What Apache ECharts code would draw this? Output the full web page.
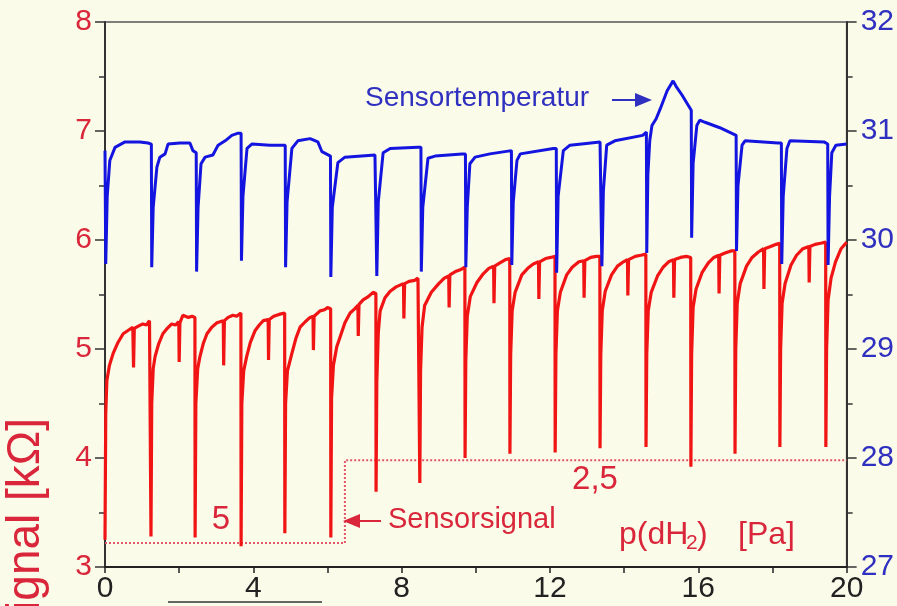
<!DOCTYPE html>
<html>
<head>
<meta charset="utf-8">
<script src="https://cdn.jsdelivr.net/npm/echarts@6/dist/echarts.min.js"></script>
<style>
html,body{margin:0;padding:0;background:#fbfbe9;}
#chart{width:897px;height:606px;}
</style>
</head>
<body>
<div id="chart"></div>
<script>
// Sensorsignal [kΩ] (left axis)
var signalData = [
[0,3.25],[0.02,4.4],[0.05,4.71],[0.12,4.85],[0.22,4.96],[0.35,5.06],[0.49,5.14],[0.62,5.17],[0.75,5.2],[0.77,4.83],[0.79,5.19],[0.9,5.21],[1.02,5.23],[1.12,5.22],[1.2,5.26],[1.235,5.25],
[1.24,3.28],[1.26,4.5],[1.3,4.82],[1.35,4.93],[1.45,5.05],[1.56,5.14],[1.68,5.19],[1.8,5.23],[1.9,5.22],[1.99,5.25],[2.0,4.88],[2.02,5.24],[2.1,5.31],[2.25,5.29],[2.35,5.3],[2.425,5.29],
[2.43,3.27],[2.45,4.5],[2.5,4.82],[2.56,4.93],[2.65,5.05],[2.75,5.14],[2.88,5.2],[3.02,5.24],[3.19,5.26],[3.2,4.85],[3.22,5.26],[3.32,5.29],[3.45,5.31],[3.55,5.3],[3.665,5.33],
[3.67,3.19],[3.69,4.5],[3.74,4.8],[3.82,4.93],[3.92,5.06],[4.05,5.17],[4.16,5.22],[4.27,5.26],[4.4,5.27],[4.41,4.9],[4.43,5.27],[4.55,5.3],[4.63,5.31],[4.72,5.32],[4.845,5.33],
[4.85,3.31],[4.87,4.5],[4.92,4.8],[5.04,4.96],[5.15,5.1],[5.26,5.2],[5.4,5.25],[5.53,5.29],[5.61,5.3],[5.62,4.99],[5.64,5.3],[5.8,5.35],[5.92,5.36],[6.0,5.38],[6.085,5.37],
[6.09,3.27],[6.11,4.55],[6.16,4.85],[6.25,5.02],[6.34,5.11],[6.47,5.24],[6.61,5.33],[6.74,5.37],[6.82,5.4],[6.83,5.12],[6.85,5.41],[6.96,5.45],[7.1,5.48],[7.23,5.52],[7.305,5.51],
[7.31,3.69],[7.33,4.7],[7.37,5.15],[7.42,5.35],[7.55,5.47],[7.69,5.53],[7.85,5.57],[8.05,5.6],[8.06,5.28],[8.08,5.6],[8.2,5.62],[8.35,5.63],[8.44,5.65],[8.485,5.65],
[8.49,3.77],[8.51,4.8],[8.55,5.2],[8.62,5.4],[8.8,5.52],[9.0,5.6],[9.15,5.65],[9.27,5.67],[9.28,5.38],[9.3,5.68],[9.45,5.71],[9.6,5.73],[9.705,5.75],
[9.71,4.0],[9.73,4.9],[9.77,5.3],[9.85,5.48],[10.03,5.61],[10.2,5.69],[10.35,5.74],[10.48,5.76],[10.49,5.42],[10.51,5.76],[10.65,5.79],[10.8,5.82],[10.915,5.83],
[10.92,4.04],[10.94,4.95],[10.98,5.35],[11.06,5.52],[11.24,5.68],[11.4,5.74],[11.55,5.78],[11.69,5.8],[11.7,5.46],[11.72,5.8],[11.88,5.83],[12.02,5.84],[12.135,5.85],
[12.14,4.05],[12.16,4.95],[12.2,5.35],[12.28,5.52],[12.45,5.68],[12.6,5.75],[12.78,5.8],[12.91,5.81],[12.92,5.47],[12.94,5.81],[13.1,5.84],[13.25,5.85],[13.345,5.85],
[13.35,4.09],[13.37,4.95],[13.41,5.35],[13.49,5.53],[13.66,5.68],[13.82,5.76],[13.98,5.8],[14.09,5.82],[14.1,5.49],[14.12,5.82],[14.3,5.85],[14.45,5.86],[14.585,5.87],
[14.59,4.10],[14.61,4.95],[14.65,5.35],[14.73,5.52],[14.9,5.67],[15.05,5.75],[15.2,5.8],[15.33,5.82],[15.34,5.47],[15.36,5.82],[15.52,5.84],[15.68,5.85],[15.795,5.84],
[15.80,3.92],[15.82,4.95],[15.86,5.38],[15.94,5.55],[16.1,5.7],[16.27,5.79],[16.42,5.84],[16.55,5.86],[16.56,5.51],[16.58,5.86],[16.72,5.88],[16.88,5.9],[16.985,5.9],
[16.99,4.04],[17.01,5.0],[17.05,5.42],[17.13,5.6],[17.3,5.76],[17.45,5.84],[17.62,5.89],[17.76,5.92],[17.77,5.55],[17.79,5.92],[17.95,5.94],[18.1,5.96],[18.195,5.97],
[18.2,4.10],[18.22,5.0],[18.26,5.42],[18.34,5.6],[18.5,5.77],[18.65,5.86],[18.82,5.92],[18.98,5.94],[18.99,5.61],[19.01,5.94],[19.15,5.96],[19.3,5.97],[19.435,5.98],
[19.44,4.10],[19.46,5.0],[19.5,5.45],[19.58,5.65],[19.7,5.8],[19.85,5.92],[20,5.98]
];

// Sensortemperatur (right axis)
var temperatureData = [
[0,30.82],[0.02,29.78],[0.06,30.4],[0.13,30.73],[0.27,30.85],[0.54,30.9],[0.94,30.9],[1.16,30.89],[1.25,30.88],
[1.26,29.75],[1.3,30.3],[1.4,30.67],[1.48,30.76],[1.62,30.79],[1.7,30.88],[2.02,30.89],[2.29,30.89],[2.37,30.82],[2.46,30.8],
[2.47,29.71],[2.51,30.3],[2.59,30.7],[2.7,30.76],[2.91,30.78],[3.05,30.87],[3.24,30.91],[3.42,30.96],[3.59,30.98],[3.67,30.98],
[3.68,29.81],[3.72,30.4],[3.83,30.84],[3.96,30.88],[4.45,30.87],[4.86,30.87],
[4.87,29.75],[4.91,30.35],[5.04,30.84],[5.2,30.91],[5.53,30.93],[5.74,30.9],[5.85,30.81],[6.08,30.77],
[6.09,29.66],[6.13,30.3],[6.28,30.71],[6.47,30.76],[7.28,30.78],[7.32,30.78],
[7.33,29.67],[7.37,30.35],[7.5,30.8],[7.69,30.84],[8.44,30.85],[8.52,30.85],
[8.53,29.71],[8.57,30.3],[8.71,30.75],[8.9,30.77],[9.63,30.79],[9.72,30.79],
[9.73,29.75],[9.77,30.3],[9.84,30.7],[9.98,30.76],[10.38,30.79],[10.96,30.82],
[10.97,29.77],[11.01,30.35],[11.11,30.73],[11.2,30.79],[12.09,30.84],[12.17,30.84],
[12.18,29.7],[12.22,30.4],[12.36,30.82],[12.54,30.87],[13.35,30.9],[13.39,30.9],
[13.40,29.76],[13.44,30.45],[13.53,30.87],[13.75,30.91],[14.5,30.96],[14.6,30.99],
[14.61,29.88],[14.64,30.6],[14.69,30.91],[14.75,31.05],[14.86,31.11],[14.97,31.2],[15.16,31.37],[15.32,31.46],[15.4,31.41],[15.56,31.33],[15.72,31.24],[15.81,31.19],
[15.82,30.02],[15.86,30.7],[15.96,31.05],[16.04,31.1],[16.18,31.08],[16.58,31.03],[17.02,30.96],
[17.03,29.9],[17.07,30.5],[17.18,30.87],[17.26,30.91],[18.15,30.89],[18.24,30.89],
[18.25,29.78],[18.29,30.4],[18.39,30.84],[18.47,30.91],[19.39,30.9],[19.49,30.88],
[19.5,29.77],[19.54,30.4],[19.6,30.8],[19.71,30.87],[20,30.88]
];

// p(dH2) step profile drawn on left-axis scale (5 Pa then 2,5 Pa)
var pressureData = [[0,3.22],[6.47,3.22],[6.47,3.98],[20,3.98]];

var xTicks = [0,4,8,12,16,20];
var leftTicks = [3,4,5,6,7,8];
var rightTicks = [27,28,29,30,31,32];

var FONT = 'Liberation Sans, Arial, sans-serif';
var RED_TXT = '#d9263a';
var BLUE_TXT = '#2f2fc0';

var chart = echarts.init(document.getElementById('chart'), null, {renderer:'canvas'});
chart.setOption({
  animation: false,
  backgroundColor: '#fbfbe9',
  grid: {left:105, right:50, top:22, bottom:39, show:true, borderColor:'#555', borderWidth:1.5, backgroundColor:'transparent'},
  xAxis: {
    type:'value', min:xTicks[0], max:xTicks[xTicks.length-1], interval:4,
    axisLine:{show:true, onZero:false, lineStyle:{color:'#222', width:2}},
    axisTick:{show:true, inside:false, length:6, lineStyle:{color:'#222', width:1.5}},
    minorTick:{show:true, splitNumber:2, length:6, lineStyle:{color:'#222', width:1.5}},
    axisLabel:{fontSize:30, color:'#222', fontFamily:FONT, margin:7},
    splitLine:{show:false}
  },
  yAxis: [
    {
      type:'value', min:leftTicks[0], max:leftTicks[leftTicks.length-1], interval:1, position:'left',
      axisLine:{show:true, lineStyle:{color:'#333', width:2}},
      axisTick:{show:true, inside:false, length:10, lineStyle:{color:'#333', width:1.5}},
      minorTick:{show:true, splitNumber:2, length:6, lineStyle:{color:'#333', width:1.5}},
      axisLabel:{fontSize:30, color:RED_TXT, fontFamily:FONT, margin:13},
      splitLine:{show:false}
    },
    {
      type:'value', min:rightTicks[0], max:rightTicks[rightTicks.length-1], interval:1, position:'right',
      axisLine:{show:true, lineStyle:{color:'#333', width:2}},
      axisTick:{show:true, inside:false, length:10, lineStyle:{color:'#333', width:1.5}},
      minorTick:{show:true, splitNumber:2, length:6, lineStyle:{color:'#333', width:1.5}},
      axisLabel:{fontSize:30, color:BLUE_TXT, fontFamily:FONT, margin:14},
      splitLine:{show:false}
    }
  ],
  series: [
    {type:'line', name:'p(dH2)', yAxisIndex:0, data:pressureData, showSymbol:false, silent:true,
     lineStyle:{color:'#e0566a', width:2, type:'dotted'}, z:2},
    {type:'line', name:'Sensorsignal', yAxisIndex:0, data:signalData, showSymbol:false,
     lineStyle:{color:'#f01414', width:3.2}, z:3},
    {type:'line', name:'Sensortemperatur', yAxisIndex:1, data:temperatureData, showSymbol:false,
     lineStyle:{color:'#1414e0', width:3}, z:4}
  ],
  graphic: [
    {type:'text', x:26, y:418, rotation:Math.PI/2, z:10,
     style:{text:'Sensorsignal [kΩ]', fontSize:46, fontFamily:FONT, fill:RED_TXT, textAlign:'right', textVerticalAlign:'middle', align:'right', verticalAlign:'middle'}},
    {type:'text', x:365, y:98, z:10,
     style:{text:'Sensortemperatur', fontSize:28, fontFamily:FONT, fill:BLUE_TXT, textAlign:'left', textVerticalAlign:'middle', align:'left', verticalAlign:'middle'}},
    {type:'line', z:10, shape:{x1:612, y1:100, x2:640, y2:100}, style:{stroke:BLUE_TXT, lineWidth:2}},
    {type:'polygon', z:10, shape:{points:[[635,93],[652,100],[635,107]]}, style:{fill:BLUE_TXT}},
    {type:'text', x:388, y:520, z:10,
     style:{text:'Sensorsignal', fontSize:29, fontFamily:FONT, fill:RED_TXT, textAlign:'left', textVerticalAlign:'middle', align:'left', verticalAlign:'middle'}},
    {type:'line', z:10, shape:{x1:355, y1:521, x2:381, y2:521}, style:{stroke:RED_TXT, lineWidth:2}},
    {type:'polygon', z:10, shape:{points:[[343,521],[360,514],[360,528]]}, style:{fill:RED_TXT}},
    {type:'text', x:221, y:520, z:10,
     style:{text:'5', fontSize:33, fontFamily:FONT, fill:RED_TXT, textAlign:'center', textVerticalAlign:'middle', align:'center', verticalAlign:'middle'}},
    {type:'text', x:595, y:480, z:10,
     style:{text:'2,5', fontSize:33, fontFamily:FONT, fill:RED_TXT, textAlign:'center', textVerticalAlign:'middle', align:'center', verticalAlign:'middle'}},
    {type:'text', x:619, y:535, z:10,
     style:{text:'p(dH', fontSize:32, fontFamily:FONT, fill:RED_TXT, textAlign:'left', textVerticalAlign:'middle', align:'left', verticalAlign:'middle'}},
    {type:'text', x:686, y:543, z:10,
     style:{text:'2', fontSize:21, fontFamily:FONT, fill:RED_TXT, textAlign:'left', textVerticalAlign:'middle', align:'left', verticalAlign:'middle'}},
    {type:'text', x:697, y:535, z:10,
     style:{text:')', fontSize:32, fontFamily:FONT, fill:RED_TXT, textAlign:'left', textVerticalAlign:'middle', align:'left', verticalAlign:'middle'}},
    {type:'text', x:738, y:535, z:10,
     style:{text:'[Pa]', fontSize:32, fontFamily:FONT, fill:RED_TXT, textAlign:'left', textVerticalAlign:'middle', align:'left', verticalAlign:'middle'}},
    {type:'line', z:10, shape:{x1:168, y1:602, x2:322, y2:602}, style:{stroke:'#333', lineWidth:1.5}}
  ]
});
</script>
</body>
</html>
